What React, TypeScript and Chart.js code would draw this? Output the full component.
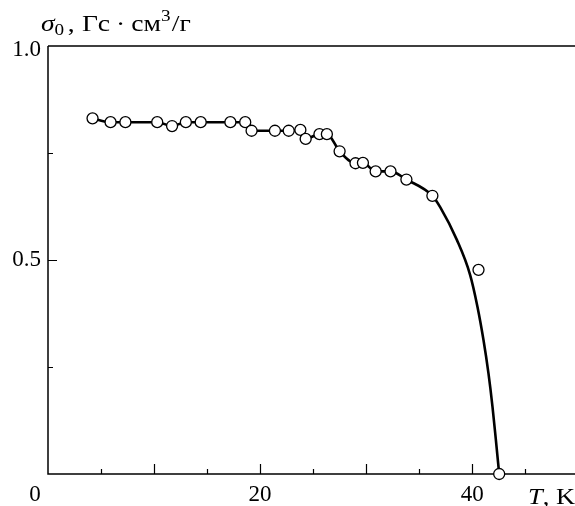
import React, { useEffect, useRef } from "react";
import { Chart, registerables } from "chart.js";

Chart.register(...registerables);

// Measured points: temperature T (K) and sigma_0 (Gs·cm^3/g)
const temperatureK = [4.2, 5.9, 7.3, 10.3, 11.7, 13.0, 14.4, 17.2, 18.6, 19.2, 21.4, 22.7, 23.8, 24.3, 25.6, 26.3, 27.5, 29.0, 29.7, 30.9, 32.3, 33.8, 36.25, 40.6, 42.55];
const sigmaMeasured = [0.831, 0.822, 0.822, 0.822, 0.813, 0.822, 0.822, 0.822, 0.822, 0.802, 0.802, 0.802, 0.804, 0.783, 0.794, 0.794, 0.754, 0.726, 0.727, 0.707, 0.707, 0.688, 0.650, 0.477, 0];

// Smooth guide curve drawn through the data
const curveT = [4.2, 5.9, 7.3, 10.3, 11.7, 13.0, 14.4, 17.2, 18.6, 19.2, 21.4, 22.7, 23.8, 24.3, 25.6, 26.3, 27.5, 29.0, 29.7, 30.9, 32.3, 33.8, 36.25, 37.0, 38.56, 39.8, 40.5, 41.07, 41.54, 41.92, 42.24, 42.55];
const curveSigma = [0.831, 0.822, 0.822, 0.822, 0.813, 0.822, 0.822, 0.822, 0.822, 0.802, 0.802, 0.802, 0.804, 0.783, 0.794, 0.794, 0.754, 0.726, 0.727, 0.707, 0.707, 0.688, 0.650, 0.623, 0.547, 0.466, 0.391, 0.313, 0.235, 0.157, 0.079, 0];

// Axis ticks
const xMajorTicks = [10, 20, 30, 40];
const xMinorTicks = [5, 15, 25, 35, 45];
const xTickLabels = ["0", "20", "40"];
const xTickLabelValues = [0, 20, 40];
const yMajorTicks = [0.5];
const yMinorTicks = [0.25, 0.75];
const yTickLabels = ["0.5", "1.0"];
const yTickLabelValues = [0.5, 1.0];

const SERIF = '"Liberation Serif", "Times New Roman", serif';

const framePlugin = {
  id: "frame",
  beforeDatasetsDraw(chart: any) {
    const { ctx, chartArea: a, scales } = chart;
    const x = scales.x;
    const y = scales.y;
    ctx.save();
    ctx.strokeStyle = "#000";
    ctx.lineWidth = 1.5;
    ctx.beginPath();
    ctx.moveTo(a.left, a.top);
    ctx.lineTo(a.right, a.top);
    ctx.moveTo(a.left, a.top);
    ctx.lineTo(a.left, a.bottom);
    ctx.lineTo(a.right, a.bottom);
    ctx.stroke();
    ctx.lineWidth = 1.2;
    ctx.beginPath();
    xMajorTicks.forEach((v) => {
      const px = Math.round(x.getPixelForValue(v)) + 0.5;
      ctx.moveTo(px, a.bottom);
      ctx.lineTo(px, a.bottom - 10);
    });
    xMinorTicks.forEach((v) => {
      const px = Math.round(x.getPixelForValue(v)) + 0.5;
      ctx.moveTo(px, a.bottom);
      ctx.lineTo(px, a.bottom - 5);
    });
    yMajorTicks.forEach((v) => {
      const py = Math.round(y.getPixelForValue(v)) + 0.5;
      ctx.moveTo(a.left, py);
      ctx.lineTo(a.left + 9, py);
    });
    yMinorTicks.forEach((v) => {
      const py = Math.round(y.getPixelForValue(v)) + 0.5;
      ctx.moveTo(a.left, py);
      ctx.lineTo(a.left + 5, py);
    });
    ctx.stroke();
    ctx.restore();
  },
  afterDraw(chart: any) {
    const { ctx, chartArea: a, scales } = chart;
    const x = scales.x;
    const y = scales.y;
    ctx.save();
    ctx.fillStyle = "#000";
    ctx.font = `23px ${SERIF}`;
    ctx.textBaseline = "middle";
    ctx.textAlign = "center";
    xTickLabels.forEach((t, i) => {
      const v = xTickLabelValues[i];
      const px = x.getPixelForValue(v) + (v === 0 ? -13 : 0);
      ctx.fillText(t, px, a.bottom + 21);
    });
    ctx.textAlign = "right";
    yTickLabels.forEach((t, i) => {
      const v = yTickLabelValues[i];
      const py = y.getPixelForValue(v) + (v === 1 ? 4 : 0);
      ctx.fillText(t, a.left - 7, py);
    });

    // Axis title (x)
    ctx.textAlign = "left";
    ctx.textBaseline = "alphabetic";
    ctx.save();
    ctx.translate(528, a.bottom + 30);
    ctx.scale(1.15, 1);
    let cx = 0;
    ctx.font = `italic 23px ${SERIF}`;
    ctx.fillText("T", cx, 0);
    cx += ctx.measureText("T").width;
    ctx.font = `23px ${SERIF}`;
    ctx.fillText(", K", cx, 0);
    ctx.restore();

    // Axis title (y)
    ctx.save();
    ctx.translate(41, 31);
    ctx.scale(1.2, 1);
    cx = 0;
    const parts: [string, string, number, number][] = [
      ["σ", `italic 23px ${SERIF}`, 0, 0],
      ["0", `16px ${SERIF}`, 4, 3],
      [",", `23px ${SERIF}`, 0, 6],
      ["Гс", `23px ${SERIF}`, 0, 5],
      ["·", `23px ${SERIF}`, 0, 5],
      ["см", `23px ${SERIF}`, 0, 0],
      ["3", `16px ${SERIF}`, -10, 1],
      ["/г", `23px ${SERIF}`, 0, 0],
    ];
    parts.forEach(([s, f, dy, gap]) => {
      ctx.font = f;
      ctx.fillText(s, cx, dy);
      cx += ctx.measureText(s).width + gap;
    });
    ctx.restore();
    ctx.restore();
  },
};

export default function App() {
  const canvasRef = useRef<HTMLCanvasElement | null>(null);

  useEffect(() => {
    const canvas = canvasRef.current;
    if (!canvas) return;
    const chart = new Chart(canvas, {
      type: "scatter",
      data: {
        datasets: [
          {
            type: "scatter",
            label: "points",
            data: temperatureK.map((t, i) => ({ x: t, y: sigmaMeasured[i] })),
            pointRadius: 5.5,
            pointBackgroundColor: "#fff",
            pointBorderColor: "#000",
            pointBorderWidth: 1.3,
            showLine: false,
            clip: false as any,
            order: 0,
          },
          {
            type: "line",
            label: "curve",
            data: curveT.map((t, i) => ({ x: t, y: curveSigma[i] })),
            borderColor: "#000",
            borderWidth: 2.6,
            pointRadius: 0,
            cubicInterpolationMode: "monotone",
            fill: false,
            clip: false as any,
            order: 1,
          },
        ],
      },
      options: {
        animation: false,
        responsive: false,
        devicePixelRatio: 1,
        layout: { autoPadding: false, padding: { left: 48, top: 46, right: 0, bottom: 32 } },
        plugins: { legend: { display: false }, tooltip: { enabled: false } },
        scales: {
          x: { type: "linear", min: 0, max: 49.7, display: false },
          y: { type: "linear", min: 0, max: 1, display: false },
        },
      },
      plugins: [framePlugin],
    });
    return () => chart.destroy();
  }, []);

  return (
    <div style={{ position: "absolute", left: 0, top: 0, width: 575, height: 506, background: "#fff" }}>
      <canvas ref={canvasRef} width={575} height={506} style={{ display: "block" }} />
    </div>
  );
}
